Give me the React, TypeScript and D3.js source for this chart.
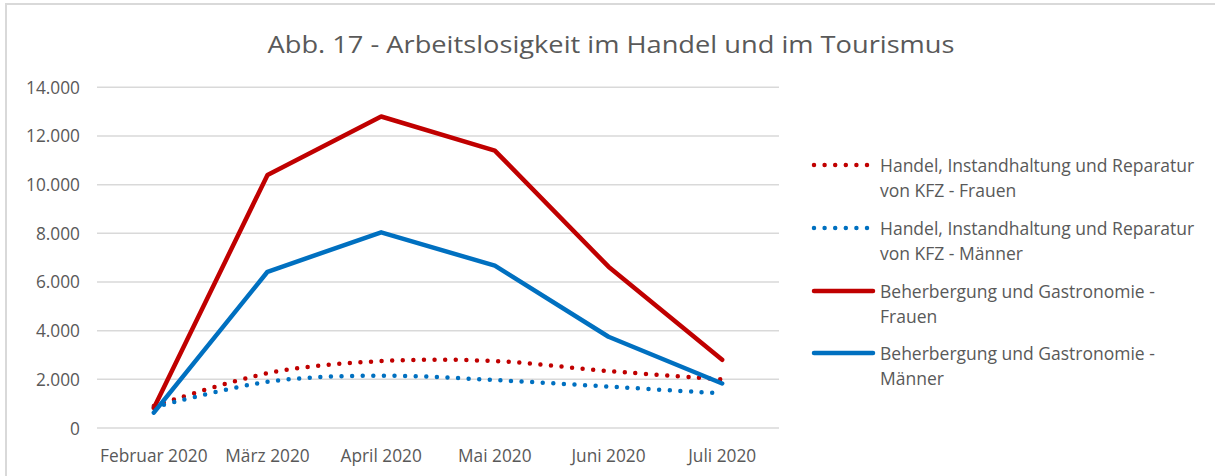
import React from 'react';
import * as d3 from 'd3';

const categories = ['Februar 2020', 'März 2020', 'April 2020', 'Mai 2020', 'Juni 2020', 'Juli 2020'];
const handelFrauen = [900, 2250, 2750, 2750, 2340, 2000];
const handelMaenner = [850, 1900, 2150, 1970, 1700, 1420];
const gastroFrauen = [820, 10400, 12800, 11400, 6630, 2800];
const gastroMaenner = [630, 6420, 8040, 6670, 3750, 1830];
const yTicks = [0, 2000, 4000, 6000, 8000, 10000, 12000, 14000];
const seriesNames = [
  ['Handel, Instandhaltung und Reparatur', 'von KFZ - Frauen'],
  ['Handel, Instandhaltung und Reparatur', 'von KFZ - Männer'],
  ['Beherbergung und Gastronomie -', 'Frauen'],
  ['Beherbergung und Gastronomie -', 'Männer'],
];
const title = 'Abb. 17 - Arbeitslosigkeit im Handel und im Tourismus';

const RED = '#c00000';
const BLUE = '#0070c0';
const TEXT = '#595959';
const FONT = "'Open Sans', 'Noto Sans', sans-serif";

const de = d3.formatLocale({ decimal: ',', thousands: '.', grouping: [3], currency: ['', '€'] });
const fmt = de.format(',');

export default function App() {
  const W = 1215, H = 476;
  const x = d3.scaleBand<string>().domain(categories).range([97, 779]);
  const y = d3.scaleLinear().domain([0, 14000]).range([428, 87.3]);
  const cx = (c: string) => (x(c) as number) + x.bandwidth() / 2;

  const series = [
    { data: handelFrauen, color: RED, dotted: true },
    { data: handelMaenner, color: BLUE, dotted: true },
    { data: gastroFrauen, color: RED, dotted: false },
    { data: gastroMaenner, color: BLUE, dotted: false },
  ];

  const smooth = d3.line<number>().x((_, i) => cx(categories[i])).y((d) => y(d)).curve(d3.curveCatmullRom.alpha(0.5));
  const straight = d3.line<number>().x((_, i) => cx(categories[i])).y((d) => y(d));

  const legendX = 814, legendLen = 59, legendTextX = 880;
  const legendY = [165, 228, 291, 353];

  return (
    <svg width={W} height={H} style={{ position: 'absolute', left: 0, top: 0, background: '#fff' }} fontFamily={FONT}>
      <rect x={6} y={4} width={W + 10} height={H + 10} fill="#fff" stroke="#d9d9d9" strokeWidth={2} />
      <text x={611} y={43} textAnchor="middle" dominantBaseline="central" fill={TEXT} fontSize={24} textLength={687} lengthAdjust="spacingAndGlyphs">{title}</text>
      {yTicks.map((t) => (
        <g key={t}>
          <line x1={97} x2={779} y1={y(t)} y2={y(t)} stroke="#d9d9d9" strokeWidth={1.5} />
          <text x={80} y={y(t)} textAnchor="end" dominantBaseline="central" fill={TEXT} fontSize={17.3}>{fmt(t)}</text>
        </g>
      ))}
      {categories.map((c) => (
        <text key={c} x={cx(c)} y={455} textAnchor="middle" dominantBaseline="central" fill={TEXT} fontSize={17.3}>{c}</text>
      ))}
      {series.map((s, i) => (
        <path key={i} d={(s.dotted ? smooth : straight)(s.data) as string} fill="none" stroke={s.color}
          strokeWidth={4.5} strokeLinecap="round" strokeLinejoin="round"
          strokeDasharray={s.dotted ? '0 10.6' : undefined} />
      ))}
      {series.map((s, i) => (
        <g key={'l' + i}>
          <line x1={legendX} x2={legendX + legendLen} y1={legendY[i]} y2={legendY[i]} stroke={s.color} strokeWidth={4.5}
            strokeLinecap="round" strokeDasharray={s.dotted ? '0 10.6' : undefined} />
          {seriesNames[i].map((ln, j) => (
            <text key={j} x={legendTextX} y={legendY[i] + j * 25} dominantBaseline="central" fill={TEXT} fontSize={17.5}>{ln}</text>
          ))}
        </g>
      ))}
    </svg>
  );
}
